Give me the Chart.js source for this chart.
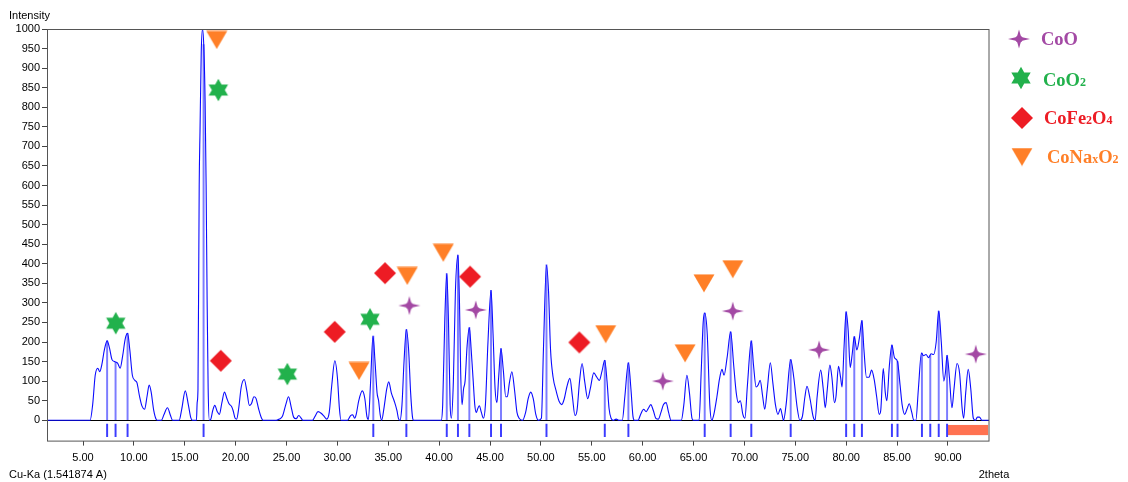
<!DOCTYPE html>
<html>
<head>
<meta charset="utf-8">
<script src="https://cdn.jsdelivr.net/npm/chart.js@4.4.1/dist/chart.umd.min.js"></script>
<style>
  html, body { margin: 0; padding: 0; background: #fff; }
  #wrap { width: 1128px; height: 482px; position: relative; }
</style>
</head>
<body>
<div id="wrap"><canvas id="c" width="1128" height="482"></canvas></div>
<script>
// Measured XRD profile: [2theta (deg), intensity]
const profilePoints = [
  [1.56,0],[5.7,0],[5.95,40],[6.2,115],[6.45,133],[6.65,124],[6.85,142],[7.1,180],[7.37,203],[7.6,185],
  [7.85,155],[8.1,150],[8.4,146],[8.65,133],[8.9,165],[9.15,208],[9.38,222],[9.6,180],[9.85,115],[10.1,102],
  [10.3,96],[10.55,62],[10.8,36],[11.05,28],[11.3,62],[11.5,90],[11.7,72],[11.95,25],[12.2,2],[12.35,0],
  [12.7,0],[12.95,14],[13.3,32],[13.6,12],[13.8,0],[14.45,0],[14.7,28],[15.05,75],[15.35,40],[15.6,6],
  [15.75,0],[16.15,0],[16.22,45],[16.3,80],[16.42,600],[16.5,740],[16.62,940],[16.75,1000],[16.88,950],[17.0,815],
  [17.1,600],[17.2,300],[17.3,80],[17.42,0],[17.55,2],[17.75,25],[17.95,38],[18.2,22],[18.4,15],[18.65,45],
  [18.9,72],[19.15,55],[19.35,42],[19.6,35],[19.75,25],[19.95,5],[20.1,3],[20.3,30],[20.55,85],[20.85,104],
  [21.1,75],[21.35,38],[21.55,42],[21.8,60],[22.0,56],[22.25,30],[22.55,5],[22.7,0],[24.0,0],[24.3,3],
  [24.6,10],[24.95,42],[25.2,60],[25.45,35],[25.7,8],[25.95,4],[26.2,12],[26.45,5],[26.6,0],[27.55,0],
  [27.8,10],[28.1,22],[28.4,18],[28.7,10],[28.95,3],[29.2,20],[29.45,90],[29.75,152],[30.0,110],[30.2,30],
  [30.35,0],[31.0,0],[31.3,12],[31.5,14],[31.7,5],[31.85,15],[32.1,50],[32.45,75],[32.7,55],[32.9,10],
  [33.05,2],[33.25,90],[33.5,215],[33.7,150],[33.9,70],[34.05,50],[34.2,15],[34.35,0],[34.6,35],[34.85,80],
  [35.05,98],[35.3,70],[35.6,48],[35.85,25],[36.0,5],[36.15,0],[36.35,40],[36.55,150],[36.78,232],[37.0,180],
  [37.2,70],[37.4,5],[37.5,0],[40.2,0],[40.35,40],[40.55,250],[40.75,375],[40.92,250],[41.08,40],[41.2,5],
  [41.4,100],[41.6,330],[41.85,422],[42.0,300],[42.12,120],[42.25,40],[42.4,80],[42.55,100],[42.75,190],[42.97,237],
  [43.15,180],[43.35,100],[43.5,40],[43.65,20],[43.8,30],[43.95,37],[44.15,20],[44.35,5],[44.55,40],[44.8,200],
  [45.1,332],[45.3,220],[45.5,80],[45.68,45],[45.85,110],[46.08,183],[46.3,130],[46.55,60],[46.7,60],[46.9,95],
  [47.15,124],[47.4,80],[47.65,20],[47.9,4],[48.2,0],[48.5,20],[48.75,55],[49.0,72],[49.25,55],[49.5,15],
  [49.75,0],[50.05,5],[50.25,180],[50.55,397],[50.75,330],[50.95,180],[51.2,110],[51.5,75],[51.8,48],[52.05,40],
  [52.3,55],[52.55,85],[52.85,107],[53.1,60],[53.35,12],[53.55,25],[53.8,100],[54.05,145],[54.3,100],[54.6,55],
  [54.85,80],[55.2,121],[55.5,110],[55.75,102],[56.0,125],[56.28,153],[56.5,100],[56.7,30],[56.9,5],[57.1,0],
  [57.4,3],[57.7,0],[58.0,0],[58.25,60],[58.6,147],[58.85,80],[59.05,10],[59.2,0],[59.55,0],[59.8,15],
  [60.1,28],[60.35,22],[60.55,30],[60.8,40],[61.05,25],[61.3,5],[61.55,3],[61.8,20],[62.05,40],[62.3,45],
  [62.55,20],[62.8,0],[63.8,0],[64.05,40],[64.35,115],[64.6,70],[64.85,5],[65.0,0],[65.55,0],[65.75,120],
  [65.95,250],[66.1,274],[66.35,220],[66.6,40],[66.8,0],[67.0,15],[67.3,60],[67.55,105],[67.8,130],[68.0,115],
  [68.3,160],[68.65,226],[68.95,140],[69.2,70],[69.4,45],[69.6,50],[69.85,15],[70.05,5],[70.3,90],[70.68,203],
  [70.9,140],[71.15,85],[71.35,90],[71.55,102],[71.8,60],[72.0,28],[72.25,80],[72.55,147],[72.8,95],[73.05,40],
  [73.3,15],[73.55,30],[73.7,15],[73.85,0],[74.1,40],[74.55,155],[74.85,110],[75.2,30],[75.45,0],[75.7,10],
  [75.95,60],[76.15,87],[76.45,55],[76.75,10],[76.95,0],[77.15,60],[77.5,128],[77.75,80],[77.95,32],[78.15,80],
  [78.4,141],[78.6,110],[78.85,45],[79.0,60],[79.25,138],[79.45,110],[79.6,85],[79.8,190],[80.0,277],[80.2,230],
  [80.4,135],[80.6,170],[80.8,214],[81.05,180],[81.3,210],[81.55,255],[81.75,180],[82.0,110],[82.25,110],[82.5,128],
  [82.75,105],[83.0,60],[83.25,15],[83.4,25],[83.65,132],[83.85,70],[84.0,50],[84.25,140],[84.5,192],[84.75,160],
  [85.05,150],[85.3,90],[85.5,40],[85.75,15],[86.0,30],[86.2,42],[86.45,20],[86.65,0],[86.85,0],[87.1,80],
  [87.4,172],[87.6,165],[87.85,168],[88.1,160],[88.35,170],[88.6,168],[88.85,200],[89.1,279],[89.35,200],[89.6,100],
  [89.75,120],[89.92,166],[90.15,110],[90.4,32],[90.6,80],[90.9,145],[91.15,120],[91.4,30],[91.55,5],[91.75,70],
  [92.0,130],[92.25,80],[92.5,5],[92.7,0],[92.9,8],[93.1,8],[93.35,0],[94.04,0]
];

// Reference line positions and the profile height at each
const stickTheta  = [7.37, 8.2, 9.38, 16.85, 33.53, 36.78, 40.75, 41.85, 42.97, 45.1, 46.08, 50.55, 56.28, 58.6,
                     66.1, 68.65, 70.68, 74.55, 80.0, 80.8, 81.55, 84.5, 85.05, 87.45, 88.27, 89.1, 89.92];
const stickCounts = [203, 148, 222, 960, 215, 232, 375, 422, 237, 332, 183, 397, 153, 147,
                     274, 226, 203, 155, 277, 214, 255, 192, 150, 172, 165, 279, 166];
const stickBand   = [-10, -42];

// Phase identification markers
const coTheta      = [37.07, 43.6, 61.98, 68.86, 77.34, 92.74];
const coCounts     = [293, 282, 100, 279, 180, 169];
const coO2Theta    = [8.22, 18.3, 25.08, 33.21];
const coO2Counts   = [248, 844, 118, 258];
const feTheta      = [18.54, 29.74, 34.68, 43.04, 53.78];
const feCounts     = [152, 226, 376, 367, 199];
const naTheta      = [18.14, 32.13, 36.87, 40.41, 56.37, 64.17, 66.03, 68.86];
const naCounts     = [972, 126, 369, 428, 220, 171, 350, 386];

// Excluded range shown below the baseline
const rangeTheta  = [90.0, 93.95];
const rangeCounts = [-12, -38];

// Axis ticks
const xTickValues = [5, 10, 15, 20, 25, 30, 35, 40, 45, 50, 55, 60, 65, 70, 75, 80, 85, 90];
const yTickValues = [0, 50, 100, 150, 200, 250, 300, 350, 400, 450, 500, 550, 600, 650, 700, 750, 800, 850, 900, 950, 1000];

const COL = { co: '#a349a4', coO2: '#22b14c', fe: '#ed1c24', na: '#ff7f27' };

function makeCanvas(w, h, draw) {
  const cv = document.createElement('canvas');
  cv.width = w; cv.height = h;
  const c = cv.getContext('2d');
  draw(c, w, h);
  return cv;
}
function polygon(c, pts, color) {
  c.beginPath();
  pts.forEach((p, i) => i ? c.lineTo(p[0], p[1]) : c.moveTo(p[0], p[1]));
  c.closePath();
  c.fillStyle = color;
  c.fill();
}
// four-pointed sparkle: thin arms around a rounded body
const sparkle = makeCanvas(24, 22, (c) => {
  const cx = 12, cy = 11, pts = [];
  for (let k = 0; k < 8; k++) {
    const a = -Math.PI / 2 + k * Math.PI / 4;
    let px, py;
    if (k % 2) { px = cx + 3.0 * Math.cos(a); py = cy + 3.0 * Math.sin(a); }
    else { px = cx + 11 * Math.cos(a); py = cy + 9.5 * Math.sin(a); }
    pts.push([px, py]);
  }
  polygon(c, pts, COL.co);
  c.beginPath();
  c.arc(cx, cy, 3.6, 0, Math.PI * 2);
  c.fill();
});
const hexagram = makeCanvas(24, 24, (c) => {
  const pts = [];
  for (let k = 0; k < 12; k++) {
    const a = -Math.PI / 2 + k * Math.PI / 6;
    const r = k % 2 ? 11.2 / Math.sqrt(3) : 11.2;
    pts.push([12 + r * Math.cos(a), 12 + r * Math.sin(a)]);
  }
  polygon(c, pts, COL.coO2);
});
const diamond = makeCanvas(24, 24, (c) => {
  polygon(c, [[12, 1], [23, 12], [12, 23], [1, 12]], COL.fe);
});
const downTri = makeCanvas(22, 19, (c) => {
  polygon(c, [[0.5, 0.5], [21.5, 0.5], [11, 18.5]], COL.na);
});

function pairs(xs, ys) { return xs.map((x, i) => ({ x: x, y: ys[i] })); }

const FONT = 'Liberation Sans, Arial, sans-serif';

const legendItems = [
  { marker: sparkle,  color: COL.co,   mx: 1019, my: 39,  tx: 1041, ty: 45,  parts: [['CoO', 0]] },
  { marker: hexagram, color: COL.coO2, mx: 1021, my: 78,  tx: 1043, ty: 86,  parts: [['CoO', 0], ['2', 1]] },
  { marker: diamond,  color: COL.fe,   mx: 1022, my: 118, tx: 1044, ty: 124, parts: [['CoFe', 0], ['2', 1], ['O', 0], ['4', 1]] },
  { marker: downTri,  color: COL.na,   mx: 1022, my: 157, tx: 1047, ty: 163, parts: [['CoNa', 0], ['x', 1], ['O', 0], ['2', 1]] }
];

const decor = {
  id: 'decor',
  beforeDatasetsDraw(chart) {
    const { ctx, chartArea: a, scales: { x, y } } = chart;
    const y0 = Math.round(y.getPixelForValue(0)) + 0.5;
    ctx.save();
    ctx.strokeStyle = '#000';
    ctx.lineWidth = 1;
    ctx.beginPath();
    ctx.moveTo(a.left, y0);
    ctx.lineTo(a.right, y0);
    ctx.stroke();
    // excluded range band
    const xl = x.getPixelForValue(rangeTheta[0]), xr = x.getPixelForValue(rangeTheta[1]);
    const yt = y.getPixelForValue(rangeCounts[0]), yb = y.getPixelForValue(rangeCounts[1]);
    ctx.fillStyle = '#ff7251';
    ctx.fillRect(xl, yt, xr - xl, yb - yt);
    ctx.restore();
  },
  afterDatasetsDraw(chart) {
    const { ctx, chartArea: a } = chart;
    ctx.save();
    ctx.strokeStyle = '#555';
    ctx.lineWidth = 1;
    ctx.strokeRect(a.left - 0.5, a.top + 0.5, a.right - a.left + 0.5, a.bottom - a.top);
    ctx.restore();
  },
  afterDraw(chart) {
    const ctx = chart.ctx;
    ctx.save();
    ctx.fillStyle = '#000';
    ctx.font = '11px ' + FONT;
    ctx.textBaseline = 'middle';
    ctx.textAlign = 'left';
    ctx.fillText('Intensity', 9, 16);
    ctx.fillText('Cu-Ka (1.541874 A)', 9, 475);
    ctx.textAlign = 'center';
    ctx.fillText('2theta', 994, 475);

    ctx.textAlign = 'left';
    ctx.textBaseline = 'alphabetic';
    legendItems.forEach(it => {
      ctx.drawImage(it.marker, it.mx - it.marker.width / 2, it.my - it.marker.height / 2);
      let xPos = it.tx;
      ctx.fillStyle = it.color;
      it.parts.forEach(([txt, sub]) => {
        ctx.font = sub ? 'bold 12px "Liberation Serif", serif' : 'bold 18.5px "Liberation Serif", serif';
        ctx.fillText(txt, xPos, it.ty);
        xPos += ctx.measureText(txt).width;
      });
    });
    ctx.restore();
  }
};

const markerSet = (label, xs, ys, img) => ({
  type: 'scatter', label, data: pairs(xs, ys),
  pointStyle: img, pointRadius: 11, pointHoverRadius: 11,
  showLine: false, clip: false
});

new Chart(document.getElementById('c'), {
  type: 'line',
  data: {
    datasets: [
      markerSet('CoO', coTheta, coCounts, sparkle),
      markerSet('CoO2', coO2Theta, coO2Counts, hexagram),
      markerSet('CoFe2O4', feTheta, feCounts, diamond),
      markerSet('CoNaxO2', naTheta, naCounts, downTri),
      {
        type: 'line', label: 'profile',
        data: profilePoints.map(p => ({ x: p[0], y: p[1] })),
        borderColor: '#0a0aff', borderWidth: 1.1, pointRadius: 0,
        cubicInterpolationMode: 'monotone', fill: false
      },
      {
        type: 'bar', label: 'lines',
        data: stickTheta.map((t, i) => ({ x: t, y: [0, stickCounts[i]] })),
        backgroundColor: 'rgba(80,80,255,0.75)', barThickness: 1.3, grouped: false,
        borderSkipped: false, borderWidth: 0
      },
      {
        type: 'bar', label: 'refs',
        data: stickTheta.map(t => ({ x: t, y: stickBand.slice() })),
        backgroundColor: '#3c3cff', barThickness: 1.3, grouped: false,
        borderSkipped: false, borderWidth: 0
      }
    ]
  },
  options: {
    responsive: false,
    animation: false,
    devicePixelRatio: 1,
    layout: { padding: { left: 0, top: 29, right: 139, bottom: 0 } },
    plugins: { legend: { display: false }, tooltip: { enabled: false } },
    events: [],
    scales: {
      x: {
        type: 'linear', min: 1.56, max: 94.04, offset: false,
        afterBuildTicks: s => { s.ticks = xTickValues.map(v => ({ value: v })); },
        afterFit: s => { s.height = 41.4; },
        ticks: {
          callback: v => Number(v).toFixed(2), color: '#000', padding: 6,
          maxRotation: 0, autoSkip: false, font: { family: FONT, size: 11 }
        },
        grid: { display: true, offset: false, drawOnChartArea: false, drawTicks: true, tickLength: 5, color: '#444' },
        border: { display: false }
      },
      y: {
        type: 'linear', min: -52, max: 1000,
        afterBuildTicks: s => { s.ticks = yTickValues.map(v => ({ value: v })); },
        afterFit: s => { s.width = 48; },
        ticks: {
          callback: v => String(v), color: '#000', padding: 2,
          autoSkip: false, font: { family: FONT, size: 11 }
        },
        grid: { display: true, offset: false, drawOnChartArea: false, drawTicks: true, tickLength: 6, color: '#444' },
        border: { display: false }
      }
    }
  },
  plugins: [decor]
});
</script>
</body>
</html>
